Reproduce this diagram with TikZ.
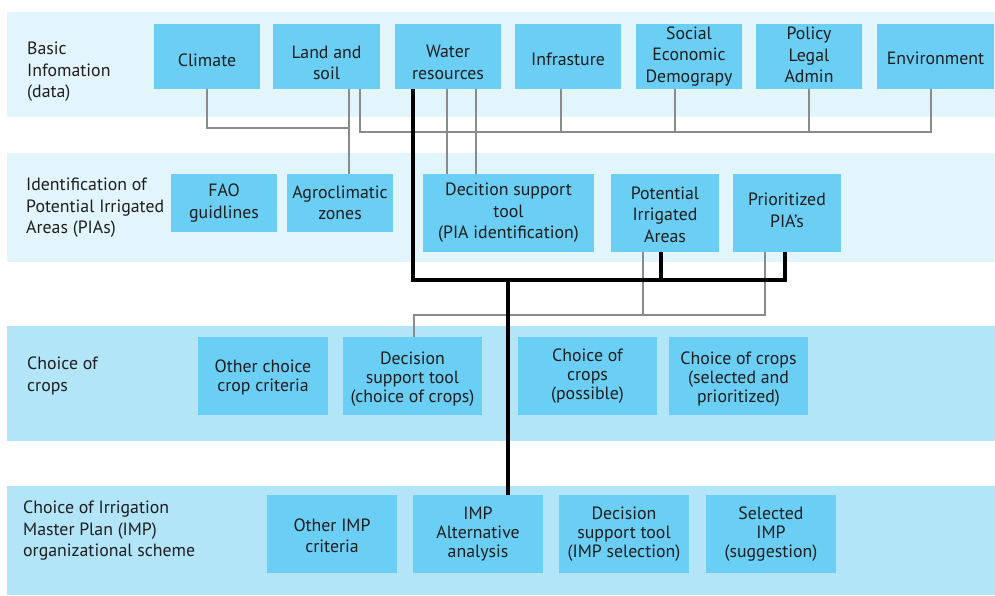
\documentclass[tikz,border=0pt]{standalone}
\usepackage{fontspec}
\setmainfont{PT Sans}
\definecolor{bandlight}{HTML}{E3F5FC}
\definecolor{banddark}{HTML}{B3E5F8}
\definecolor{boxblue}{HTML}{6BCEF4}
\definecolor{linegray}{HTML}{8A8A8A}
\definecolor{txt}{HTML}{1E1E1E}
% invisible struts that nudge a label down (extra height) or up (extra depth)
\newcommand\padtop[1]{\rule{0pt}{#1}}
\newcommand\padbot[1]{\rule[-#1]{0pt}{#1}}
\begin{document}
\begin{tikzpicture}[x=1pt,y=-1pt,
  every node/.style={font=\fontsize{17.8}{21.5}\selectfont, text=txt},
  box/.style={fill=boxblue, align=center, inner sep=0pt, anchor=center},
  tight/.style={font=\fontsize{17.8}{19}\selectfont},
  lbl/.style={anchor=west, align=left, inner sep=0pt},
  gry/.style={draw=linegray, line width=2pt},
  blk/.style={draw=black, line width=4pt, line join=miter}]
\useasboundingbox (0,0) rectangle (995,595);

% horizontal bands
\fill[bandlight] (7,12) rectangle (995,117);
\fill[bandlight] (7,153) rectangle (995,262);
\fill[banddark] (7,326) rectangle (995,441);
\fill[banddark] (7,486) rectangle (995,595);

% band titles
\node[lbl] (t1) at (27,72) {Basic\\Infomation\\(data)};
\node[lbl] (t2) at (26,208) {Identification of\\Potential Irrigated\\Areas (PIAs)};
\node[lbl] (t3) at (27,376) {Choice of\\crops};
\node[lbl] (t4) at (23,531) {Choice of Irrigation\\Master Plan (IMP)\\organizational scheme};

% basic information
\node[box, minimum width=106pt, minimum height=65pt] (climate) at (207,56.5) {\padtop{20pt}Climate};
\node[box, minimum width=107pt, minimum height=65pt] (land) at (326.5,56.5) {\padtop{25pt}Land and\\soil};
\node[box, minimum width=106pt, minimum height=65pt] (water) at (448,56.5) {\padtop{24pt}Water\\resources};
\node[box, minimum width=106pt, minimum height=65pt] (infra) at (568,56.5) {\padtop{19pt}Infrasture};
\node[box, minimum width=106pt, minimum height=65pt] (social) at (689,56.5) {Social\\Economic\\Demograpy};
\node[box, minimum width=106pt, minimum height=65pt] (policy) at (809,56.5) {Policy\\Legal\\Admin\padbot{3pt}};
\node[box, minimum width=117pt, minimum height=65pt] (env) at (935.5,56.5) {\padtop{17pt}Environment};

% identification of PIAs
\node[box, minimum width=106pt, minimum height=58pt] (fao) at (224,203) {FAO\\guidlines};
\node[box, minimum width=106pt, minimum height=58pt] (agro) at (340,203) {Agroclimatic\\zones};
\node[box, minimum width=171pt, minimum height=78pt] (dst1) at (508.5,213) {Decition support\\tool\\(PIA identification)};
\node[box, minimum width=108pt, minimum height=78pt] (pia) at (665,213) {\padtop{16pt}Potential\\Irrigated\\Areas};
\node[box, minimum width=108pt, minimum height=78pt] (ppia) at (787,213) {Prioritized\\PIA’s\padbot{6pt}};

% choice of crops
\node[box, tight, minimum width=130pt, minimum height=78pt] (ocrop) at (263,376) {\padtop{16pt}Other choice\\crop criteria};
\node[box, tight, minimum width=139pt, minimum height=78pt] (dst2) at (412.5,376) {\padtop{18pt}Decision\\support tool\\(choice of crops)};
\node[box, tight, minimum width=139pt, minimum height=78pt] (possible) at (587.5,376) {Choice of\\crops\\(possible)};
\node[box, tight, minimum width=139pt, minimum height=78pt] (selected) at (738.5,376) {\padtop{18pt}Choice of crops\\(selected and\\prioritized)};

% choice of IMP
\node[box, minimum width=130pt, minimum height=78pt] (oimp) at (332,534) {\padtop{16pt}Other IMP\\criteria};
\node[box, tight, minimum width=130pt, minimum height=78pt] (alt) at (478,534) {IMP\\Alternative\\analysis};
\node[box, tight, minimum width=130pt, minimum height=78pt] (dst3) at (624,534) {Decision\\support tool\\(IMP selection)};
\node[box, tight, minimum width=130pt, minimum height=78pt] (selimp) at (771,534) {Selected\\IMP\\(suggestion)};

% bus points
\coordinate (climbus) at (349,128);
\coordinate (infobus) at (931,132);
\coordinate (hub) at (508,280);
\coordinate (cropbus) at (414,315);

% thin grey links
\draw[gry] (climate.south) |- (climbus);
\draw[gry] ([xshift=22.5pt]land.south) -- ([xshift=22.5pt]land.south |- agro.north);
\draw[gry] ([xshift=33.5pt]land.south) |- (infobus) -- (infobus |- env.south);
\foreach \n/\s in {infra/-7,social/-14,policy/0}
  \draw[gry] ([xshift=\s pt]\n.south) -- ([xshift=\s pt]\n.south |- infobus);
\draw[gry] ([xshift=-1pt]water.south) -- ([xshift=-1pt]water.south |- dst1.north);
\draw[gry] ([xshift=28pt]water.south) -- ([xshift=28pt]water.south |- dst1.north);
\draw[gry] ([xshift=-22pt]pia.south) -- ([xshift=-22pt]pia.south |- cropbus);
\draw[gry] ([xshift=-22pt]ppia.south) |- (cropbus) -- (cropbus |- dst2.north);

% thick black links
\draw[blk] ([xshift=-35pt]water.south) |- (hub) -| ([xshift=-2pt]ppia.south);
\draw[blk] ([xshift=-4pt]pia.south) -- ([xshift=-4pt]pia.south |- hub);
\draw[blk] (hub) -- (hub |- alt.north);
\end{tikzpicture}
\end{document}
